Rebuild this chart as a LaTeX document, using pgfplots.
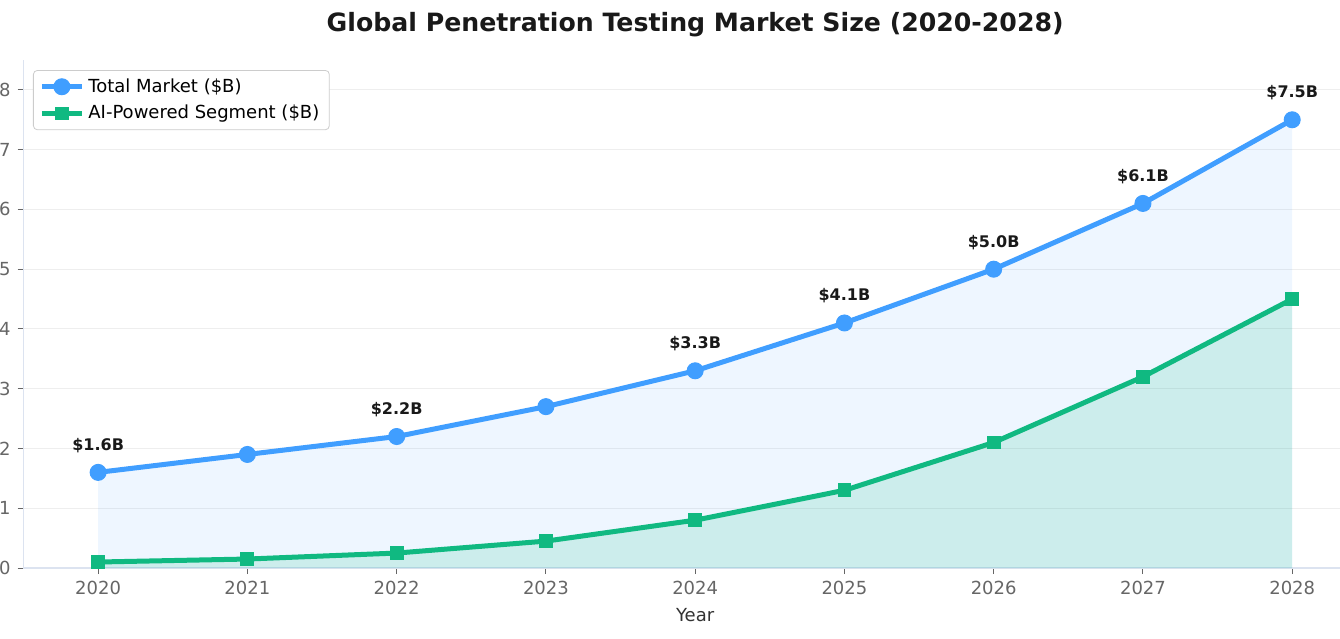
\documentclass[border=0pt]{standalone}
\usepackage{pgfplots}
\pgfplotsset{compat=1.18}
\usepackage{fontspec}
\setmainfont{DejaVu Sans}
\definecolor{totblue}{HTML}{409EFF}
\definecolor{aigreen}{HTML}{10B981}
\definecolor{spine}{HTML}{DCE3F0}
\definecolor{gridc}{HTML}{EEEEEE}
\definecolor{tickc}{HTML}{666666}
\begin{document}
\begin{tikzpicture}
\begin{axis}[
  at={(0,0)}, anchor=south west,
  scale only axis, width=658.25pt, height=254pt,
  xmin=2019.5, xmax=2028.32, ymin=0, ymax=8.5,
  axis x line*=bottom, axis y line*=left,
  axis line style={spine, line width=0.7pt},
  xtick={2020,2021,2022,2023,2024,2025,2026,2027,2028},
  xticklabels={2020,2021,2022,2023,2024,2025,2026,2027,2028},
  ytick={0,1,2,3,4,5,6,7,8},
  tick align=outside, major tick length=3pt,
  tick style={tickc, line width=0.5pt},
  ymajorgrids, grid style={gridc, line width=0.5pt},
  /pgf/number format/assume math mode=true,
  ticklabel style={font=\fontsize{9}{11}\selectfont, text=tickc},
  xlabel={Year},
  xlabel style={at={(ticklabel cs:0.5102)}, font=\fontsize{9}{11}\selectfont, text=black!80},
  title={Global Penetration Testing Market Size (2020-2028)},
  title style={at={(0.5102,1)}, anchor=base, yshift=8.5pt, font=\fontsize{12.6}{15}\selectfont\bfseries, text=black!90},
  legend style={at={(0,1)}, anchor=north west, xshift=4.75pt, yshift=-5pt,
    draw=black!20, rounded corners=2pt, font=\fontsize{9}{11}\selectfont,
    inner xsep=3pt, inner ysep=2pt, row sep=1pt, cells={anchor=west}},
  legend cell align=left,
  legend image code/.code={\draw[mark repeat=2,mark phase=2,#1] plot coordinates {(0pt,0pt)(10pt,0pt)(20pt,0pt)};},
]
% fills
\addplot[draw=none, fill=totblue, fill opacity=0.09, forget plot] coordinates {
(2020,1.6) (2021,1.9) (2022,2.2) (2023,2.7) (2024,3.3) (2025,4.1) (2026,5.0) (2027,6.1) (2028,7.5)} \closedcycle;
\addplot[draw=none, fill=aigreen, fill opacity=0.15, forget plot] coordinates {
(2020,0.1) (2021,0.15) (2022,0.25) (2023,0.45) (2024,0.8) (2025,1.3) (2026,2.1) (2027,3.2) (2028,4.5)} \closedcycle;
% lines
\addplot[totblue, line width=2.5pt, mark=*, mark size=4pt, mark options={line width=0.5pt, fill=totblue}] coordinates {
(2020,1.6) (2021,1.9) (2022,2.2) (2023,2.7) (2024,3.3) (2025,4.1) (2026,5.0) (2027,6.1) (2028,7.5)};
\addlegendentry{Total Market (\$B)}
\addplot[aigreen, line width=2.5pt, mark=square*, mark size=3.2pt, mark options={line width=0.5pt, fill=aigreen}] coordinates {
(2020,0.1) (2021,0.15) (2022,0.25) (2023,0.45) (2024,0.8) (2025,1.3) (2026,2.1) (2027,3.2) (2028,4.5)};
\addlegendentry{AI-Powered Segment (\$B)}
% labels
\addplot[draw=none, mark=none, forget plot, nodes near coords, point meta=explicit symbolic,
  nodes near coords style={font=\fontsize{8}{9}\selectfont\bfseries, text=black!90, anchor=center, yshift=13.5pt}]
  coordinates {(2020,1.6)[\$1.6B] (2022,2.2)[\$2.2B] (2024,3.3)[\$3.3B] (2025,4.1)[\$4.1B] (2026,5.0)[\$5.0B] (2027,6.1)[\$6.1B] (2028,7.5)[\$7.5B]};
\end{axis}
\pgfresetboundingbox
\useasboundingbox (-11.75pt,-35pt) rectangle (658.25pt,284pt);
\end{tikzpicture}
\end{document}
